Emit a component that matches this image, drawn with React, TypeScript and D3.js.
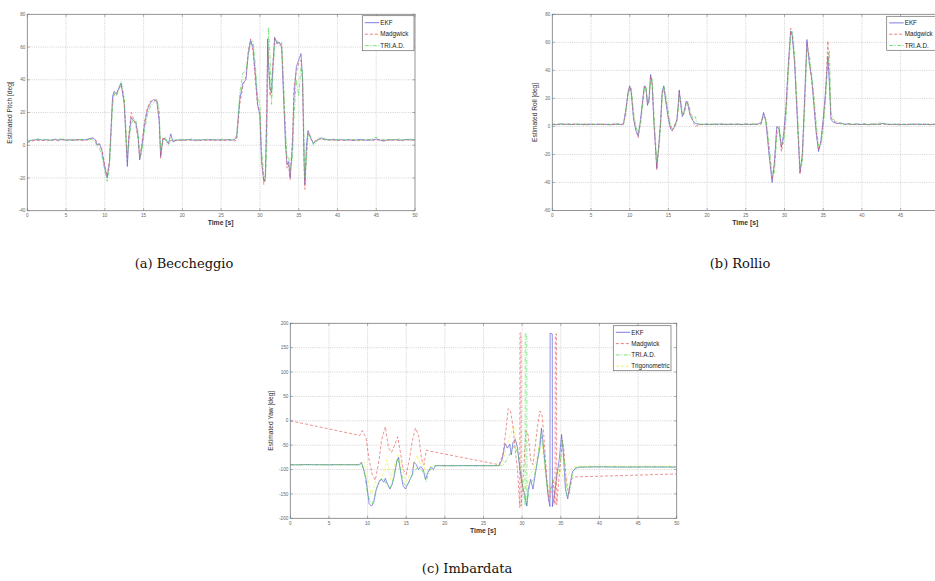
import React from "react";
import * as d3 from "d3";

type Pt = [number, number];

const timeTicks = [0, 5, 10, 15, 20, 25, 30, 35, 40, 45, 50];
const pitchTicks = [-40, -20, 0, 20, 40, 60, 80];
const rollTicks = [-60, -40, -20, 0, 20, 40, 60, 80];
const yawTicks = [-200, -150, -100, -50, 0, 50, 100, 150, 200];

const seriesNames3 = ["EKF", "Madgwick", "TRI.A.D."];
const seriesNames4 = ["EKF", "Madgwick", "TRI.A.D.", "Trigonometric"];

const pitchEKF: Pt[] = [[0,2],[0.5,3],[1,3.2],[1.5,3.5],[2,3],[2.5,3.4],[3,3],[3.5,3.6],[4,3.2],[4.5,3.5],[5,3],[5.5,3.3],[6,3.1],[6.5,3.5],[7,3.2],[7.5,3.4],[8,4],[8.5,4.5],[8.8,3],[9,0],[9.3,1],[9.6,-3],[10,-14],[10.3,-20],[10.6,-10],[11,30],[11.2,33],[11.5,31],[11.8,35],[12.1,38],[12.5,25],[12.9,-13],[13.1,5],[13.4,17],[13.7,15],[14,14],[14.3,5],[14.5,-9],[14.8,0],[15.1,12],[15.5,22],[15.9,26],[16.3,28],[16.7,27],[17,15],[17.2,-7],[17.5,4],[17.8,4],[18.2,1],[18.5,7],[18.8,2],[19.2,3],[19.7,3.4],[20.2,3],[20.7,3.5],[21.2,3.1],[21.7,3.3],[22.2,3],[22.7,3.4],[23.2,3.2],[23.7,3.5],[24.2,3.1],[24.7,3.3],[25.2,3.2],[25.7,3.4],[26.2,3.1],[26.7,3.3],[27,5],[27.4,28],[27.8,38],[28.2,40],[28.5,56],[28.8,64],[29.1,60],[29.4,44],[29.7,25],[30,18],[30.2,-10],[30.5,-22],[30.7,-20],[30.9,20],[31,65],[31.1,50],[31.3,35],[31.5,32],[31.7,50],[31.9,66],[32.2,62],[32.5,63],[32.8,60],[33,35],[33.3,0],[33.5,-12],[33.7,-10],[33.9,-20],[34.2,0],[34.4,30],[34.7,48],[35,52],[35.3,56],[35.5,40],[35.7,-10],[35.8,-24],[36,0],[36.2,9],[36.5,5],[36.9,1],[37.3,3],[37.7,4],[38,4.5],[38.5,3.5],[39,3.2],[39.5,3.6],[40,3],[40.5,3.4],[41,3.1],[41.5,3.5],[42,2.8],[42.5,3.3],[43,3.6],[43.5,3],[44,3.4],[44.5,3.1],[45,3.8],[45.5,3],[46,2.5],[46.5,3.4],[47,3.1],[47.5,3.5],[48,3],[48.5,3.3],[49,3.6],[49.5,3.1],[50,3.4]];

const pitchMadgwick: Pt[] = [[0,1.5],[0.5,2.5],[1,3],[1.5,2.8],[2,3.2],[2.5,2.6],[3,3.3],[3.5,3],[4,2.7],[4.5,3.4],[5,2.9],[5.5,3.5],[6,2.8],[6.5,3.2],[7,3],[7.5,2.9],[8,3.5],[8.5,4],[8.8,3.5],[9,1],[9.3,0.5],[9.6,-2],[10,-12],[10.3,-19],[10.6,-9],[11,28],[11.2,31],[11.5,32],[11.8,34],[12.1,37],[12.5,27],[12.9,-10],[13.1,7],[13.4,20],[13.7,16],[14,12],[14.3,3],[14.5,-8],[14.8,2],[15.1,14],[15.5,23],[15.9,27],[16.3,27],[16.7,28],[17,18],[17.2,-8],[17.5,5],[17.8,3],[18.2,1],[18.5,3],[18.8,2.5],[19.2,3],[19.7,2.8],[20.2,3.2],[20.7,2.9],[21.2,3.4],[21.7,2.7],[22.2,3.1],[22.7,2.9],[23.2,3.3],[23.7,2.8],[24.2,3.2],[24.7,3],[25.2,2.8],[25.7,3.1],[26.2,3.3],[26.7,2.6],[27,3],[27.4,25],[27.8,36],[28.2,42],[28.5,58],[28.8,65],[29.1,58],[29.4,40],[29.7,24],[30,20],[30.2,-5],[30.5,-24],[30.7,-18],[30.9,30],[31,60],[31.1,55],[31.3,30],[31.5,38],[31.7,52],[31.9,65],[32.2,63],[32.5,61],[32.8,62],[33,40],[33.3,5],[33.5,-14],[33.7,-12],[33.9,-21],[34.2,5],[34.4,36],[34.7,45],[35,50],[35.3,52],[35.5,38],[35.7,-15],[35.8,-27],[36,-5],[36.2,8],[36.5,4],[36.9,2],[37.3,3],[37.7,3.5],[38,4],[38.5,3],[39,3.4],[39.5,2.9],[40,3.3],[40.5,2.8],[41,3.2],[41.5,3],[42,3.4],[42.5,2.7],[43,3.1],[43.5,3.3],[44,2.9],[44.5,3.2],[45,3],[45.5,3.5],[46,2.8],[46.5,3.1],[47,3.3],[47.5,2.9],[48,3.2],[48.5,2.8],[49,3.1],[49.5,3.4],[50,3]];

const pitchTRIAD: Pt[] = [[0,2.5],[0.5,3],[1,3.5],[1.5,4],[2,3],[2.5,3.8],[3,2.7],[3.5,4],[4,3.3],[4.5,4.5],[5,3.2],[5.5,2.8],[6,3.6],[6.5,3],[7,3.7],[7.5,3.1],[8,3.8],[8.5,3],[8.8,1.5],[9,-1],[9.3,-2],[9.6,-6],[10,-16],[10.3,-22],[10.6,-14],[11,24],[11.2,32],[11.5,30],[11.8,34],[12.1,39],[12.5,30],[12.9,-6],[13.1,0],[13.4,13],[13.7,16],[14,15],[14.3,8],[14.5,-8],[14.8,-4],[15.1,8],[15.5,19],[15.9,24],[16.3,26],[16.7,28],[17,22],[17.2,-3],[17.5,3],[17.8,5],[18.2,0],[18.5,4],[18.8,3],[19.2,3.5],[19.7,3],[20.2,3.6],[20.7,3.2],[21.2,3.8],[21.7,3],[22.2,3.5],[22.7,3.2],[23.2,3.7],[23.7,3.1],[24.2,3.5],[24.7,3.4],[25.2,3.7],[25.7,3.2],[26.2,3.5],[26.7,3.8],[27,6],[27.4,32],[27.8,44],[28.2,46],[28.5,55],[28.8,62],[29.1,64],[29.4,50],[29.7,30],[30,25],[30.2,-2],[30.5,-18],[30.7,-22],[30.9,0],[31,40],[31.1,72],[31.3,55],[31.5,25],[31.7,45],[31.9,60],[32.2,64],[32.5,62],[32.8,63],[33,45],[33.3,10],[33.5,-8],[33.7,-7],[33.9,-15],[34.2,-8],[34.4,18],[34.7,40],[35,30],[35.3,48],[35.5,45],[35.7,0],[35.8,-20],[36,-10],[36.2,6],[36.5,6],[36.9,0],[37.3,2],[37.7,5],[38,3.5],[38.5,4.2],[39,3],[39.5,3.8],[40,3.4],[40.5,3.9],[41,3],[41.5,3.6],[42,3.3],[42.5,3.8],[43,3],[43.5,3.5],[44,3.2],[44.5,4],[45,5],[45.5,3.3],[46,3.7],[46.5,3],[47,3.6],[47.5,3.2],[48,3.8],[48.5,3.1],[49,3.5],[49.5,3.9],[50,3.3]];

const rollEKF: Pt[] = [[0,1.5],[0.5,1.2],[1,1.8],[1.5,1.4],[2,1.6],[2.5,1.3],[3,1.7],[3.5,1.4],[4,1.5],[4.5,1.2],[5,1.6],[5.5,1.4],[6,1.7],[6.5,1.3],[7,1.5],[7.5,1.1],[8,1.6],[8.5,1.4],[9,1.5],[9.2,2],[9.5,12],[9.8,25],[10,29],[10.2,24],[10.5,5],[10.8,-3],[11.1,-7],[11.4,5],[11.7,20],[11.9,29],[12.1,27],[12.3,15],[12.5,20],[12.7,37],[12.9,30],[13.1,5],[13.5,-30],[13.8,-10],[14,5],[14.2,25],[14.4,29],[14.6,20],[15,5],[15.3,-2],[15.5,-3],[15.8,0],[16.1,5],[16.3,18],[16.4,26],[16.6,15],[16.8,7],[17,10],[17.3,18],[17.5,16],[17.8,8],[18.2,4],[18.5,2],[19,1.5],[19.5,1.4],[20,1.6],[20.5,1.3],[21,1.5],[21.5,1.7],[22,1.4],[22.5,1.5],[23,1.3],[23.5,1.6],[24,1.5],[24.5,1.4],[25,1.6],[25.5,1.3],[26,1.5],[26.5,1.6],[27,3],[27.3,10],[27.6,3],[28,-20],[28.4,-40],[28.7,-25],[29,0],[29.3,-2],[29.6,-15],[29.9,-5],[30.2,15],[30.5,45],[30.8,68],[31,65],[31.3,45],[31.7,0],[32,-33],[32.3,-20],[32.6,20],[32.9,62],[33.2,45],[33.5,35],[33.8,15],[34.1,-5],[34.4,-18],[34.7,-10],[35,5],[35.3,25],[35.6,50],[35.8,30],[36,5],[36.3,3],[36.8,2],[37.3,2.5],[37.8,1.5],[38.3,1.8],[38.8,1.4],[39.3,1.6],[39.8,1.3],[40.3,1.5],[40.8,1.2],[41.3,1.6],[41.8,1.4],[42.3,1.7],[42.8,2.2],[43.3,1.5],[43.8,1.3],[44.3,1.6],[44.8,1.1],[45.3,1.5],[45.8,1.2],[46.3,1.6],[46.8,1.4],[47.3,1.7],[47.8,1.3],[48.3,1.5],[48.8,1.2],[49.3,1.6],[50,1.4]];

const rollMadgwick: Pt[] = [[0,1.2],[0.5,1.6],[1,1.3],[1.5,1.7],[2,1.4],[2.5,1.8],[3,1.3],[3.5,1.6],[4,1.2],[4.5,1.7],[5,1.4],[5.5,1.5],[6,1.3],[6.5,1.7],[7,1.2],[7.5,1.6],[8,1.3],[8.5,1.8],[9,1.2],[9.2,1.8],[9.5,11],[9.8,24],[10,28],[10.2,25],[10.5,7],[10.8,-2],[11.1,-8],[11.4,3],[11.7,19],[11.9,28],[12.1,28],[12.3,16],[12.5,18],[12.7,36],[12.9,32],[13.1,8],[13.5,-31],[13.8,-12],[14,3],[14.2,24],[14.4,28],[14.6,22],[15,7],[15.3,-1],[15.5,-3],[15.8,1],[16.1,4],[16.3,16],[16.4,25],[16.6,17],[16.8,8],[17,9],[17.3,17],[17.5,17],[17.8,9],[18.2,3],[18.5,0],[19,1],[19.5,1.6],[20,1.2],[20.5,1.7],[21,1.3],[21.5,1.4],[22,1.6],[22.5,1.2],[23,1.7],[23.5,1.3],[24,1.6],[24.5,1.2],[25,1.5],[25.5,1.7],[26,1.3],[26.5,1.5],[27,2],[27.3,9],[27.6,5],[28,-17],[28.4,-38],[28.7,-28],[29,-2],[29.3,0],[29.6,-18],[29.9,-8],[30.2,12],[30.5,42],[30.8,70],[31,66],[31.3,48],[31.7,3],[32,-34],[32.3,-22],[32.6,17],[32.9,60],[33.2,48],[33.5,33],[33.8,18],[34.1,-3],[34.4,-17],[34.7,-12],[35,3],[35.3,22],[35.6,61],[35.8,35],[36,6],[36.3,4],[36.8,2.5],[37.3,1.8],[37.8,1.3],[38.3,1.6],[38.8,1.2],[39.3,1.7],[39.8,1.4],[40.3,1.6],[40.8,1.3],[41.3,1.5],[41.8,1.7],[42.3,1.3],[42.8,1.6],[43.3,1.2],[43.8,1.5],[44.3,1.3],[44.8,1.7],[45.3,1.2],[45.8,1.5],[46.3,1.3],[46.8,1.6],[47.3,1.2],[47.8,1.5],[48.3,1.7],[48.8,1.3],[49.3,1.5],[50,1.2]];

const rollTRIAD: Pt[] = [[0,1.8],[0.5,1.4],[1,2],[1.5,1.5],[2,1.9],[2.5,1.4],[3,1.8],[3.5,1.5],[4,2],[4.5,1.5],[5,1.8],[5.5,1.3],[6,1.9],[6.5,1.5],[7,1.8],[7.5,1.4],[8,2.3],[8.5,1.5],[9,1],[9.2,1.2],[9.5,8],[9.8,22],[10,27],[10.2,28],[10.5,10],[10.8,0],[11.1,-5],[11.4,2],[11.7,16],[11.9,27],[12.1,29],[12.3,18],[12.5,17],[12.7,33],[12.9,34],[13.1,12],[13.5,-25],[13.8,-15],[14,0],[14.2,20],[14.4,29],[14.6,24],[15,10],[15.3,1],[15.5,-2],[15.8,-1],[16.1,3],[16.3,12],[16.4,22],[16.6,20],[16.8,10],[17,8],[17.3,15],[17.5,18],[17.8,12],[18.2,5],[18.5,7],[18.7,2],[19,1.8],[19.5,1.5],[20,1.9],[20.5,1.4],[21,1.8],[21.5,1.5],[22,1.9],[22.5,1.6],[23,1.8],[23.5,1.4],[24,1.9],[24.5,1.5],[25,1.8],[25.5,1.6],[26,1.9],[26.5,1.4],[27,1.5],[27.3,7],[27.6,6],[28,-12],[28.4,-35],[28.7,-33],[29,-8],[29.3,0],[29.6,-12],[29.9,-12],[30.2,5],[30.5,38],[30.8,63],[31,68],[31.3,52],[31.7,8],[32,-28],[32.3,-27],[32.6,10],[32.9,55],[33.2,52],[33.5,38],[33.8,22],[34.1,2],[34.4,-14],[34.7,-14],[35,-2],[35.3,18],[35.6,45],[35.8,54],[36,10],[36.3,5],[36.8,3],[37.3,2],[37.8,1.6],[38.3,2],[38.8,1.5],[39.3,1.9],[39.8,1.6],[40.3,2],[40.8,1.4],[41.3,1.8],[41.8,1.5],[42.3,2.5],[42.8,1.8],[43.3,1.4],[43.8,1.9],[44.3,1.5],[44.8,1.8],[45.3,1.4],[45.8,1.9],[46.3,1.5],[46.8,1.8],[47.3,1.4],[47.8,1.9],[48.3,1.5],[48.8,1.8],[49.3,1.4],[50,1.7]];

const yawEKF: Pt[] = [[0,-90],[1,-90.5],[2,-89.8],[3,-90.2],[4,-90],[5,-90.4],[6,-89.9],[7,-90.2],[8,-90],[8.9,-90.3],[9.2,-85],[9.5,-100],[9.8,-120],[10.2,-170],[10.5,-175],[10.8,-168],[11.1,-142],[11.5,-125],[11.8,-120],[12.1,-126],[12.3,-118],[12.6,-130],[12.9,-140],[13.2,-130],[13.5,-110],[13.8,-82],[14,-75],[14.3,-108],[14.6,-133],[14.9,-140],[15.2,-130],[15.5,-120],[15.8,-110],[16,-85],[16.3,-90],[16.6,-100],[16.9,-94],[17.2,-100],[17.5,-120],[17.8,-106],[18.2,-95],[18.5,-100],[18.8,-92],[19.5,-92],[21,-92.3],[23,-91.8],[25,-92.2],[27,-92],[27.4,-80],[27.8,-47],[28.1,-56],[28.4,-48],[28.6,-70],[28.8,-45],[29.1,-38],[29.4,-55],[29.7,-100],[30,-130],[30.3,-150],[30.6,-175],[30.8,-140],[31.1,-120],[31.4,-140],[31.7,-110],[32,-80],[32.3,-55],[32.5,-15],[32.8,-60],[33.1,-110],[33.4,-160],[33.6,-176],[33.62,180],[33.9,178],[33.92,-176],[34.2,-150],[34.5,-110],[34.8,-80],[35.1,-28],[35.3,-60],[35.6,-140],[35.9,-160],[36.2,-130],[36.5,-105],[36.9,-97],[37.5,-95],[40,-94.5],[43,-95],[46,-94.6],[50,-95]];

const yawMadgwick: Pt[] = [[0,0],[3,-10],[6,-20],[9,-30],[9.3,-20],[9.8,-35],[10.2,-80],[10.6,-110],[11,-122],[11.5,-80],[11.8,-40],[12.3,-12],[12.7,-55],[13.1,-65],[13.5,-50],[13.9,-33],[14.2,-60],[14.6,-100],[15,-110],[15.4,-80],[15.8,-40],[16.2,-15],[16.6,-30],[17,-80],[17.3,-90],[17.6,-60],[18,-62],[27,-90],[27.5,-70],[27.9,-20],[28.2,25],[28.5,20],[28.8,-10],[29.1,-60],[29.4,-100],[29.7,-178],[29.72,180],[29.85,180],[29.87,-175],[30.2,-100],[30.5,-20],[30.8,-30],[31.1,-80],[31.4,-90],[31.7,-50],[32,-10],[32.3,20],[32.6,10],[32.9,-50],[33.2,-120],[33.5,-165],[33.8,-140],[34,-120],[34.25,-172],[34.3,178],[34.45,178],[34.47,-172],[34.7,-130],[35,-80],[35.2,-40],[35.4,-60],[35.7,-120],[36,-150],[36.4,-120],[36.8,-115],[37.2,-115],[50,-109]];

const yawTRIAD: Pt[] = [[0,-90.5],[1,-90],[2,-90.3],[3,-89.8],[4,-90.4],[5,-90],[6,-90.3],[7,-89.9],[8,-90.3],[9,-90],[9.3,-90],[9.6,-110],[10,-150],[10.3,-165],[10.6,-170],[11,-150],[11.4,-125],[11.8,-118],[12.2,-122],[12.6,-135],[12.9,-138],[13.3,-120],[13.6,-95],[13.9,-78],[14.2,-95],[14.6,-125],[15,-135],[15.4,-125],[15.8,-110],[16.2,-100],[16.6,-95],[17,-100],[17.3,-110],[17.6,-125],[17.9,-105],[18.3,-96],[18.7,-92],[20,-92.2],[22,-91.9],[24,-92.3],[26,-92],[27.5,-92],[28,-80],[28.5,-65],[29,-50],[29.5,-70],[29.9,-110],[30.2,-150],[30.38,-172],[30.4,180],[30.6,178],[30.62,-172],[31,-130],[31.5,-120],[32,-80],[32.4,-30],[32.7,-50],[33,-100],[33.3,-150],[33.7,-140],[34,-120],[34.5,-110],[34.9,-90],[35.2,-40],[35.5,-90],[35.8,-155],[36.1,-150],[36.5,-110],[37,-95],[40,-94.5],[45,-95],[50,-94.6]];

const yawTrig: Pt[] = [[0,-90],[9,-90],[9.5,-82],[10,-120],[10.5,-150],[11,-125],[11.5,-130],[12,-110],[12.5,-80],[13,-120],[13.5,-90],[14,-70],[14.5,-100],[15,-125],[15.5,-110],[16,-90],[16.4,-70],[16.8,-90],[17.2,-78],[17.5,-110],[18,-95],[18.5,-92],[27,-92],[27.5,-85],[28,-50],[28.5,-30],[28.9,-10],[29.2,-40],[29.6,-80],[30,-120],[30.5,-140],[31,-110],[31.5,-100],[32,-70],[32.4,-25],[32.8,-80],[33.2,-130],[33.6,-140],[34,-160],[34.4,-130],[34.8,-100],[35.2,-110],[35.6,-130],[36,-110],[36.5,-95],[37,-93],[50,-93]];

const STYLES = [
  { color: "#4646dc", dash: "none" },
  { color: "#e24848", dash: "3,2" },
  { color: "#3ada3a", dash: "4,1.5,1,1.5" },
  { color: "#eeee30", dash: "3,2" },
];

const SANS = "'Liberation Sans', Arial, sans-serif";
const SERIF = "'DejaVu Serif', 'Liberation Serif', serif";
const VIEW_W = 935;

interface PlotProps {
  id: string;
  left: number; top: number; width: number; height: number;
  yDomain: [number, number];
  yTicks: number[];
  series: Pt[][];
  names: string[];
  drawOrder: number[];
  legend: { x: number; y: number; w: number; h: number; row: number; first: number };
  ylabel: string;
  ylabelOffset: number;
}

function Plot(p: PlotProps) {
  const x = d3.scaleLinear().domain([0, 50]).range([p.left, p.left + p.width]);
  const y = d3.scaleLinear().domain(p.yDomain).range([p.top + p.height, p.top]);
  const line = d3.line<Pt>().x(d => x(d[0])).y(d => y(d[1]));
  const bottom = p.top + p.height;
  const right = p.left + p.width;
  return (
    <g>
      <defs>
        <clipPath id={`clip-${p.id}`}>
          <rect x={p.left} y={p.top} width={p.width} height={p.height} />
        </clipPath>
      </defs>
      <rect x={p.left} y={p.top} width={p.width} height={p.height} fill="#fff" />
      {timeTicks.slice(1, -1).map(t => (
        <line key={`gx${t}`} x1={x(t)} x2={x(t)} y1={p.top} y2={bottom} stroke="#b4b4b4" strokeWidth={0.6} strokeDasharray="1,1.2" />
      ))}
      {p.yTicks.slice(1, -1).map(t => (
        <line key={`gy${t}`} x1={p.left} x2={right} y1={y(t)} y2={y(t)} stroke="#b4b4b4" strokeWidth={0.6} strokeDasharray="1,1.2" />
      ))}
      <g clipPath={`url(#clip-${p.id})`}>
        {p.drawOrder.map(i => (
          <path key={i} d={line(p.series[i]) || ""} fill="none" stroke={STYLES[i].color}
            strokeWidth={0.6} strokeDasharray={STYLES[i].dash} strokeLinejoin="round" />
        ))}
      </g>
      <rect x={p.left} y={p.top} width={p.width} height={p.height} fill="none" stroke="#7a7a7a" strokeWidth={0.8} />
      {timeTicks.map(t => (
        <g key={`tx${t}`}>
          <line x1={x(t)} x2={x(t)} y1={bottom} y2={bottom - 2.5} stroke="#7a7a7a" strokeWidth={0.6} />
          <line x1={x(t)} x2={x(t)} y1={p.top} y2={p.top + 2.5} stroke="#7a7a7a" strokeWidth={0.6} />
          {x(t) + 4 < VIEW_W && (
            <text x={x(t)} y={bottom + 6.5} fontSize={4.6} fill="#666" textAnchor="middle" fontFamily={SANS}>{t}</text>
          )}
        </g>
      ))}
      {p.yTicks.map(t => (
        <g key={`ty${t}`}>
          <line x1={p.left} x2={p.left + 2.5} y1={y(t)} y2={y(t)} stroke="#7a7a7a" strokeWidth={0.6} />
          <line x1={right} x2={right - 2.5} y1={y(t)} y2={y(t)} stroke="#7a7a7a" strokeWidth={0.6} />
          <text x={p.left - 2} y={y(t) + 1.6} fontSize={4.6} fill="#666" textAnchor="end" fontFamily={SANS}>{t}</text>
        </g>
      ))}
      <text x={p.left + p.width / 2 - 0.5} y={bottom + 14.5} fontSize={6.8} fontWeight="bold" fill="#333" textAnchor="middle" fontFamily={SANS}>Time [s]</text>
      <text transform={`translate(${p.left - p.ylabelOffset},${p.top + p.height / 2}) rotate(-90)`} fontSize={6.6} fill="#333" textAnchor="middle" fontFamily={SANS}>{p.ylabel}</text>
      <rect x={p.legend.x} y={p.legend.y} width={p.legend.w} height={p.legend.h} fill="#fff" stroke="#6a6a6a" strokeWidth={0.7} />
      {p.names.map((n, i) => {
        const ly = p.legend.y + p.legend.first + i * p.legend.row;
        return (
          <g key={n}>
            <line x1={p.legend.x + 2.5} x2={p.legend.x + 17} y1={ly} y2={ly} stroke={STYLES[i].color} strokeWidth={0.7} strokeDasharray={STYLES[i].dash} />
            <text x={p.legend.x + 18} y={ly + 2.2} fontSize={6.3} fill="#222" fontFamily={SANS}>{n}</text>
          </g>
        );
      })}
    </g>
  );
}

export default function App() {
  return (
    <svg width={935} height={581} style={{ position: "absolute", left: 0, top: 0, background: "#fff" }}>
      <rect x={0} y={0} width={935} height={581} fill="#fff" />
      <Plot id="pitch" left={27.3} top={14.3} width={387.7} height={196.4}
        yDomain={[-40, 80]} yTicks={pitchTicks}
        series={[pitchEKF, pitchMadgwick, pitchTRIAD]} names={seriesNames3} drawOrder={[0, 1, 2]}
        legend={{ x: 362.3, y: 15.7, w: 51.7, h: 35, row: 11.5, first: 7 }}
        ylabel="Estimated Pitch [deg]" ylabelOffset={15} />
      <Plot id="roll" left={552.3} top={14.3} width={387} height={196.2}
        yDomain={[-60, 80]} yTicks={rollTicks}
        series={[rollEKF, rollMadgwick, rollTRIAD]} names={seriesNames3} drawOrder={[0, 1, 2]}
        legend={{ x: 886.7, y: 16.3, w: 51.7, h: 34, row: 11.3, first: 6.6 }}
        ylabel="Estimated Roll [deg]" ylabelOffset={15.3} />
      <Plot id="yaw" left={290.3} top={323.3} width={386.4} height={195}
        yDomain={[-200, 200]} yTicks={yawTicks}
        series={[yawEKF, yawMadgwick, yawTRIAD, yawTrig]} names={seriesNames4} drawOrder={[3, 0, 1, 2]}
        legend={{ x: 613.3, y: 325.7, w: 57.7, h: 45, row: 11.3, first: 6.6 }}
        ylabel="Estimated Yaw [deg]" ylabelOffset={17.3} />
      <text x={184} y={268} fontSize={13} fill="#111" textAnchor="middle" fontFamily={SERIF}>(a) Beccheggio</text>
      <text x={740} y={268} fontSize={13} fill="#111" textAnchor="middle" fontFamily={SERIF}>(b) Rollio</text>
      <text x={467} y={573} fontSize={13} fill="#111" textAnchor="middle" fontFamily={SERIF}>(c) Imbardata</text>
    </svg>
  );
}
